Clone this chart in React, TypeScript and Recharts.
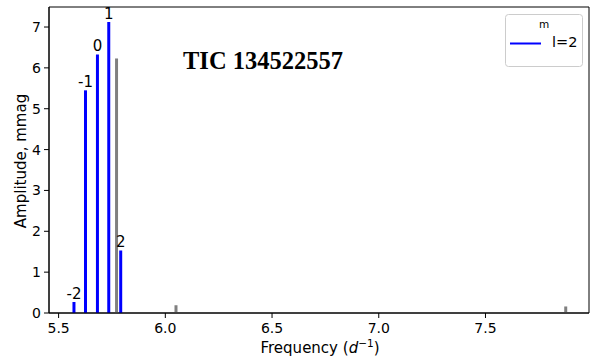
import React from 'react';
import { ComposedChart, Bar, XAxis, YAxis, ReferenceArea, LabelList, Label } from 'recharts';

const modeFreqs = [5.570, 5.624, 5.680, 5.733, 5.789];
const modeAmps = [0.27, 5.45, 6.33, 7.12, 1.53];
const modeLabels = ['-2', '-1', '0', '1', '2'];
const otherFreqs = [5.7695, 6.048, 7.874];
const otherAmps = [6.23, 0.19, 0.16];
const xTicks = [5.5, 6.0, 6.5, 7.0, 7.5];
const yTicks = [0, 1, 2, 3, 4, 5, 6, 7];
const titleText = 'TIC 134522557';
const legendTitle = 'm';
const legendLabel = 'l=2';

const data = [
  ...modeFreqs.map((f, i) => ({ freq: f, blue: modeAmps[i], gray: null as number | null, m: modeLabels[i] })),
  ...otherFreqs.map((f, i) => ({ freq: f, blue: null as number | null, gray: otherAmps[i], m: '' })),
].sort((a, b) => a.freq - b.freq);

const FONT = 'DejaVu Sans, sans-serif';

export default function App() {
  return (
    <div style={{ position: 'absolute', left: 0, top: 0 }}>
      <ComposedChart width={596} height={360} data={data} margin={{ top: 7, right: 7, left: 0, bottom: 0 }}>
        <XAxis
          dataKey="freq"
          type="number"
          domain={[5.455, 7.985]}
          ticks={xTicks}
          tickFormatter={(v: number) => v.toFixed(1)}
          height={47}
          tickSize={5}
          tickMargin={5}
          axisLine={{ stroke: '#000' }}
          tickLine={{ stroke: '#000' }}
          tick={{ fill: '#000', fontSize: 14, fontFamily: FONT }}
          allowDataOverflow
        >
          <Label
            content={() => (
              <text x={320} y={353} textAnchor="middle" fontSize={15} fontFamily={FONT} fill="#000">
                Frequency (<tspan fontStyle="italic">d</tspan><tspan dy={-6} fontSize={10.5}>−1</tspan><tspan dy={6}>)</tspan>
              </text>
            )}
          />
        </XAxis>
        <YAxis
          type="number"
          domain={[0, 7.49]}
          ticks={yTicks}
          width={49}
          tickSize={5}
          tickMargin={3}
          axisLine={{ stroke: '#000' }}
          tickLine={{ stroke: '#000' }}
          tick={{ fill: '#000', fontSize: 14, fontFamily: FONT }}
          allowDataOverflow
        >
          <Label
            content={() => (
              <text x={26} y={161} transform="rotate(-90 26 161)" textAnchor="middle" fontSize={15} fontFamily={FONT} fill="#000">
                Amplitude, mmag
              </text>
            )}
          />
        </YAxis>
        <ReferenceArea x1={5.455} x2={7.985} y1={0} y2={7.49} fill="none" stroke="#000" strokeWidth={1} ifOverflow="visible" />
        <Bar dataKey="gray" stackId="s" fill="#808080" barSize={3} isAnimationActive={false} />
        <Bar dataKey="blue" stackId="s" fill="#0000ff" barSize={3} isAnimationActive={false}>
          <LabelList dataKey="m" position="top" offset={3} fill="#000" fontSize={15} fontFamily={FONT} />
        </Bar>
        <g>
          <rect x={505.5} y={14.5} width={77} height={52} rx={3} ry={3} fill="#fff" fillOpacity={0.8} stroke="#cccccc" strokeWidth={1} />
          <text x={544} y={28} textAnchor="middle" fontSize={10.5} fontFamily={FONT} fill="#000">{legendTitle}</text>
          <line x1={510} x2={541} y1={43.5} y2={43.5} stroke="#0000ff" strokeWidth={2} />
          <text x={552} y={47} fontSize={14.5} fontFamily={FONT} fill="#000">{legendLabel}</text>
        </g>
        <text x={263} y={69} textAnchor="middle" fontSize={24.5} fontWeight="bold" fontFamily="Liberation Serif, serif" fill="#000">
          {titleText}
        </text>
      </ComposedChart>
    </div>
  );
}
